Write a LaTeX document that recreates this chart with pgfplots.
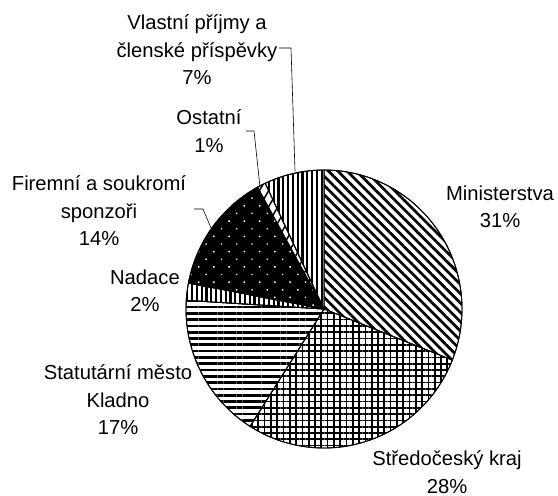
\documentclass[border=0pt]{standalone}
\usepackage{pgfplots}
\pgfplotsset{compat=1.18}
\usepackage{pgfplotstable}
\usetikzlibrary{patterns.meta}
\usepackage{fontspec}
\setmainfont{Liberation Sans}
\tikzset{lbl/.style={align=center, font=\fontsize{20.3}{27.5}\selectfont, inner sep=0pt}}
% slice: start (%), value (%), style
\newcommand\pieslice[3]{%
  \addplot[#3, line width=0.9bp, domain=90-3.6*(#1+#2):90-3.6*(#1), samples=80, variable=\t]
    ({324+138*cos(\t)},{309-139*sin(\t)}) -- (axis cs:324,309) -- cycle;}
\begin{document}
\begin{tikzpicture}
\begin{axis}[
  width=558bp, height=496bp, scale only axis,
  xmin=0, xmax=558, ymin=0, ymax=496, y dir=reverse,
  hide axis, clip=false, enlargelimits=false,
]
% Ministerstva 31
\pieslice{0}{31}{draw=black, fill=white, postaction={pattern={Lines[angle=-45,distance=6.6bp,line width=2.7bp]}}}
% Stredocesky kraj 28
\pieslice{31}{28}{draw=black, fill=white, postaction={pattern={Hatch[angle=0,distance=6.3bp,line width=1.7bp]}}}
% Statutarni mesto Kladno 17
\pieslice{59}{17}{draw=black, fill=white, postaction={pattern={Lines[angle=0,distance=6.3bp,line width=2.7bp]}}}
% Nadace 2
\pieslice{76}{2}{draw=black, fill=white, postaction={pattern={Lines[angle=90,distance=4.8bp,line width=2.2bp]}}}
% Firemni a soukromi sponzori 14
\pieslice{78}{14}{draw=black, fill=black, postaction={pattern={Dots[angle=45,distance=10.8bp,radius=1bp]}, pattern color=white}}
% Ostatni 1
\pieslice{92}{1}{draw=black, fill=white, postaction={pattern={Lines[angle=60,distance=8bp,line width=1.5bp]}}}
% Vlastni prijmy 7
\pieslice{93}{7}{draw=black, fill=white, postaction={pattern={Lines[angle=90,distance=4.8bp,line width=2.2bp]}}}
% leader lines
\addplot[black, line width=0.6bp] coordinates {(279,48) (291,48) (295,171)};
\addplot[black, line width=0.6bp] coordinates {(246,131) (254,131) (260,187)};
\addplot[black, line width=0.6bp] coordinates {(194,209) (203,209) (211,228)};
% labels
\node[lbl] at (axis cs:197,50) {Vlastní příjmy a\\členské příspěvky\\7\%};
\node[lbl] at (axis cs:209,131) {Ostatní\\1\%};
\node[lbl] at (axis cs:99,211) {Firemní a soukromí\\sponzoři\\14\%};
\node[lbl] at (axis cs:145,291) {Nadace\\2\%};
\node[lbl] at (axis cs:118,400) {Statutární město\\Kladno\\17\%};
\node[lbl] at (axis cs:447,472) {Středočeský kraj\\28\%};
\node[lbl] at (axis cs:500,207) {Ministerstva\\31\%};
\end{axis}
\pgfresetboundingbox
\path (current axis.south west) rectangle (current axis.north east);
\end{tikzpicture}
\end{document}
